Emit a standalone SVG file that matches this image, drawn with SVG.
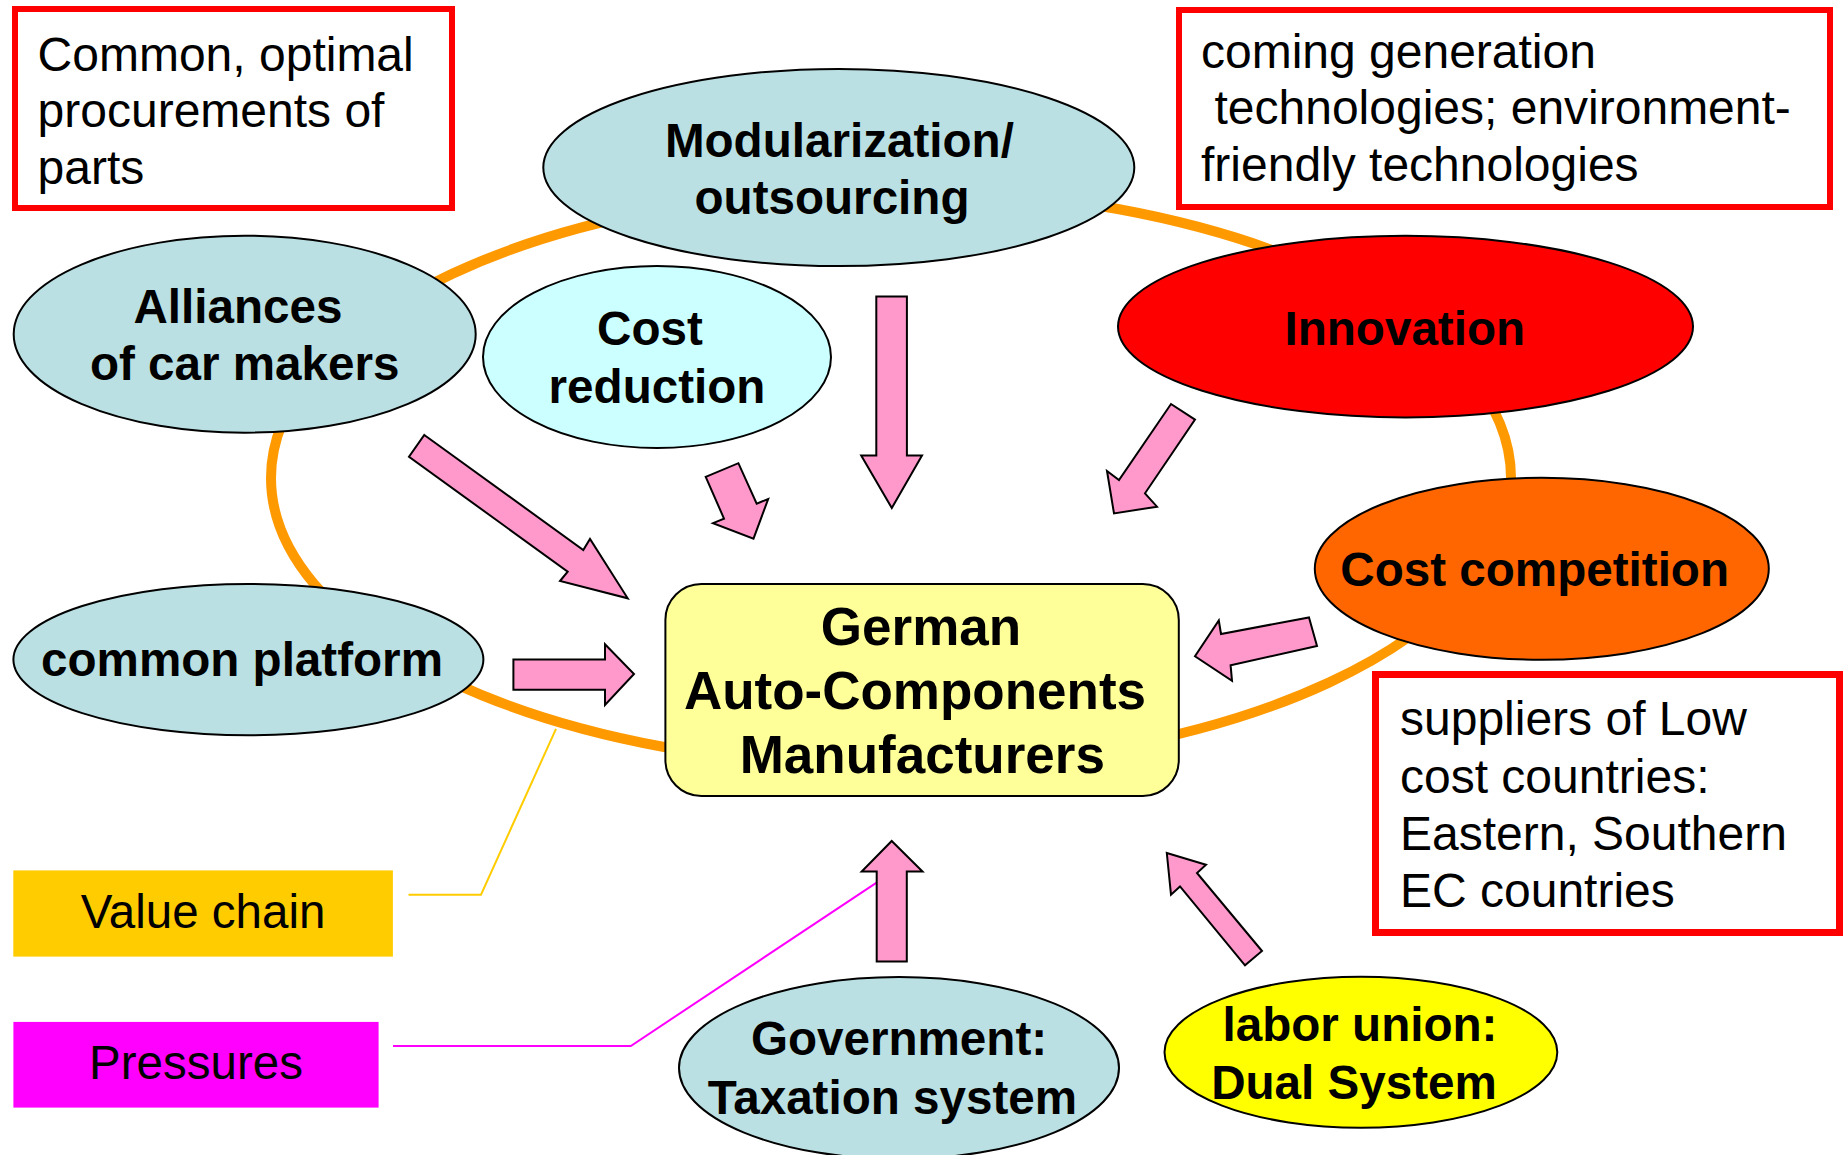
<svg xmlns="http://www.w3.org/2000/svg" width="1845" height="1155" viewBox="0 0 1845 1155">
<style>
  text { font-family: "Liberation Sans", Arial, sans-serif; fill: #000; }
  .b { font-weight: bold; font-size: 47.6px; text-anchor: middle; }
  .r { font-size: 48px; }
  .rc { font-size: 47.5px; text-anchor: middle; }
  .big { font-weight: bold; font-size: 53px; text-anchor: middle; }
  .ell { stroke: #000; stroke-width: 2; }
  .note { fill: #fff; stroke: #FF0000; }
  .arr { fill: #FF99CC; stroke: #000; stroke-width: 2; stroke-linejoin: miter; }
</style>
<rect x="0" y="0" width="1845" height="1155" fill="#fff"/>
<!-- orange value-chain ring -->
<ellipse id="ring" cx="891" cy="478" rx="620" ry="289" fill="none" stroke="#FF9900" stroke-width="10"/>

<g id="connectors">
  <polyline points="408.5,894.7 481,894.7 556,728.9" fill="none" stroke="#FFCC00" stroke-width="2"/>
  <polyline points="393,1046 630.8,1046 876.6,882.6" fill="none" stroke="#FF00FF" stroke-width="2"/>
  <polygon class="arr" points="424.3,435 583.3,550 590,539 627.7,598.3 560,581 567.7,571.7 409,456.7"/>
  <polygon class="arr" points="705.7,476.8 738.4,463.2 756.7,503.6 768.2,499 753.5,538.6 713,523.2 724,518.6"/>
  <polygon class="arr" points="876.3,296.4 906.9,296.4 906.9,455.4 922,455.4 891.8,507.9 861.2,455.4 876.3,455.4"/>
  <polygon class="arr" points="1171,404 1195,419.6 1145,493.3 1157,506.7 1114,513.4 1107,471 1119,480"/>
  <polygon class="arr" points="1309,617.4 1317,646 1230.6,665.2 1232,680.8 1195,656.3 1218.8,620.5 1221,634"/>
  <polygon class="arr" points="513.4,659.4 605,659.4 605,644.3 634,674 605,705 605,689.8 513.4,689.8"/>
  <polygon class="arr" points="876.7,961.5 876.7,871.5 861.7,871.5 891.7,841 922.5,871.5 906.8,871.5 906.8,961.5"/>
  <polygon class="arr" points="1166.8,853 1206,864.7 1197,873 1262,951 1245,965.3 1180,886.4 1171,894.7"/>
</g>

<g id="note-procurement">
  <rect class="note" x="15" y="9" width="437" height="199" stroke-width="6"/>
  <text class="r" x="37.6" y="70.5">Common, optimal</text>
  <text class="r" x="37.6" y="127">procurements of</text>
  <text class="r" x="37.6" y="184">parts</text>
</g>

<g id="note-technologies">
  <rect class="note" x="1179" y="10" width="651" height="197" stroke-width="6"/>
  <text class="r" x="1201" y="68">coming generation</text>
  <text class="r" x="1214.5" y="124">technologies; environment-</text>
  <text class="r" x="1201" y="181">friendly technologies</text>
</g>

<g id="note-suppliers">
  <rect class="note" x="1375.5" y="674.5" width="464" height="258" stroke-width="7"/>
  <text class="r" x="1400" y="735">suppliers of Low</text>
  <text class="r" x="1400" y="792.7">cost countries:</text>
  <text class="r" x="1400" y="850">Eastern, Southern</text>
  <text class="r" x="1400" y="906.7">EC countries</text>
</g>

<g id="modularization">
  <ellipse class="ell" cx="838.8" cy="167.5" rx="295.5" ry="98.6" fill="#BBE0E3"/>
  <text class="b" x="839.4" y="157">Modularization/</text>
  <text class="b" x="832" y="214">outsourcing</text>
</g>

<g id="alliances">
  <ellipse class="ell" cx="244.7" cy="334.2" rx="231" ry="98.5" fill="#BBE0E3"/>
  <text class="b" x="238" y="322.7">Alliances</text>
  <text class="b" x="244.7" y="380">of car makers</text>
</g>

<g id="cost-reduction">
  <ellipse class="ell" cx="657" cy="357" rx="174" ry="91" fill="#CCFFFF"/>
  <text class="b" x="650" y="344.6">Cost</text>
  <text class="b" x="657" y="403">reduction</text>
</g>

<g id="innovation">
  <ellipse class="ell" cx="1405.5" cy="326.6" rx="287.5" ry="90.8" fill="#FF0000"/>
  <text class="b" x="1404.8" y="345">Innovation</text>
</g>

<g id="cost-competition">
  <ellipse class="ell" cx="1541.8" cy="568.8" rx="227" ry="91" fill="#FF6600"/>
  <text class="b" x="1534.7" y="586">Cost competition</text>
</g>

<g id="common-platform">
  <ellipse class="ell" cx="248.4" cy="659.6" rx="235" ry="75.7" fill="#BBE0E3"/>
  <text class="b" x="242" y="675.7">common platform</text>
</g>

<g id="german-manufacturers">
  <rect x="665.4" y="584" width="513.4" height="212" rx="36" ry="36" fill="#FFFF99" stroke="#000" stroke-width="2"/>
  <text class="big" x="921" y="645.4">German</text>
  <text class="big" x="915" y="708.8">Auto-Components</text>
  <text class="big" x="922.3" y="772.5">Manufacturers</text>
</g>

<g id="government">
  <ellipse class="ell" cx="899" cy="1068" rx="220" ry="91" fill="#BBE0E3"/>
  <text class="b" x="899" y="1055">Government:</text>
  <text class="b" x="892.4" y="1114">Taxation system</text>
</g>

<g id="labor-union">
  <ellipse class="ell" cx="1360.9" cy="1052.2" rx="196.4" ry="75.5" fill="#FFFF00"/>
  <text class="b" x="1360" y="1041">labor union:</text>
  <text class="b" x="1354" y="1099">Dual System</text>
</g>

<g id="legend-value-chain">
  <rect x="13.3" y="870.4" width="379.6" height="86.2" fill="#FFCC00"/>
  <text class="rc" x="203" y="928">Value chain</text>
</g>

<g id="legend-pressures">
  <rect x="13.4" y="1021.9" width="365.2" height="85.7" fill="#FF00FF"/>
  <text class="rc" x="196" y="1079">Pressures</text>
</g>
</svg>
